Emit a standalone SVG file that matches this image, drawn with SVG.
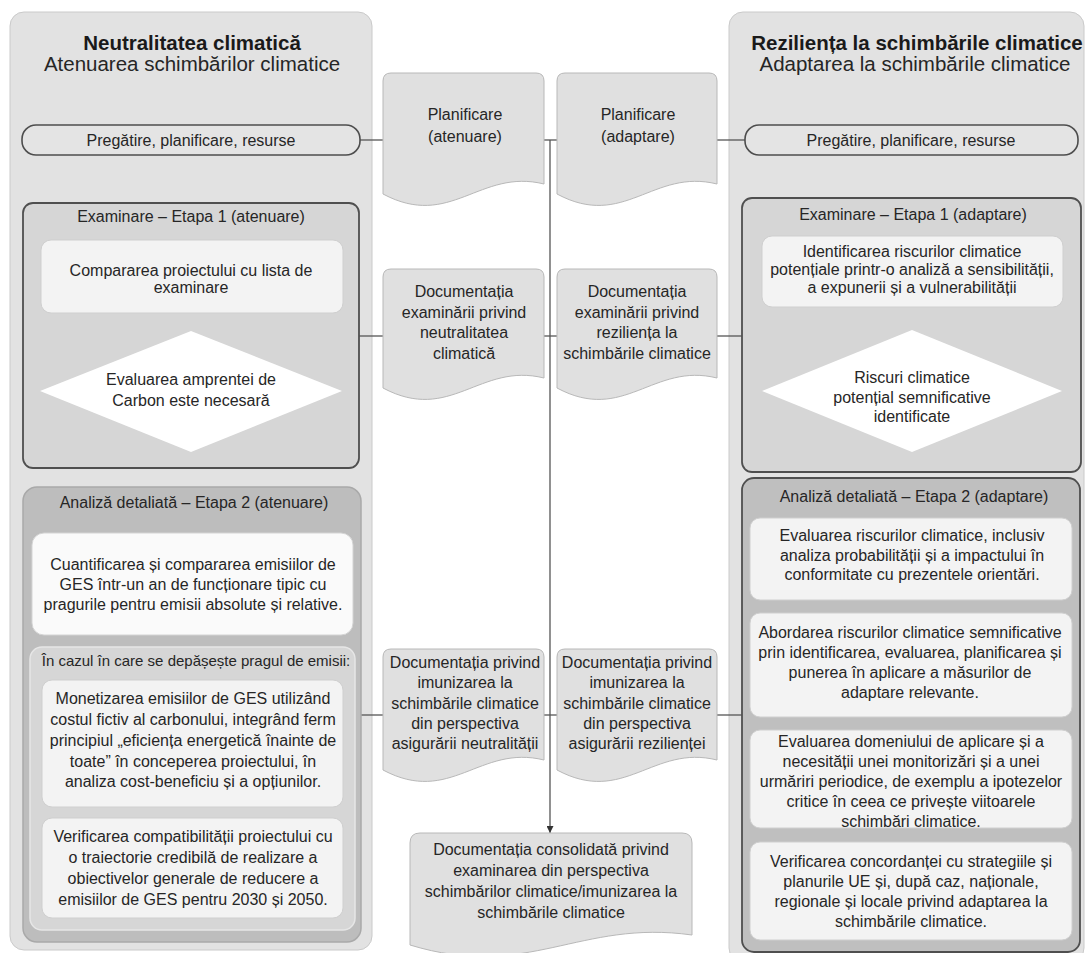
<svg xmlns="http://www.w3.org/2000/svg" width="1085" height="953" viewBox="0 0 1085 953">
  <defs>
    <style>
      text { font-family: "Liberation Sans", Arial, sans-serif; font-size: 16px; fill: #262626; text-anchor: middle; }
      .title { font-size: 20.5px; font-weight: bold; fill: #1a1a1a; }
      .subtitle { font-size: 20.5px; fill: #262626; }
      .small { font-size: 15px; }
      .panel { fill: #e2e2e2; stroke: #cacaca; stroke-width: 1; }
      .pill { fill: #e4e4e4; stroke: #4d4d4d; stroke-width: 1.6; }
      .stage1 { fill: #d6d6d6; stroke: #4f4f4f; stroke-width: 1.8; }
      .stage2L { fill: #bdbdbd; stroke: #a9a9a9; stroke-width: 1.5; }
      .stage2R { fill: #bfbfbf; stroke: #4f4f4f; stroke-width: 1.8; }
      .sub { fill: #d6d6d6; stroke: #e6e6e6; stroke-width: 1.5; }
      .box { fill: #f3f3f3; stroke: #cfcfcf; stroke-width: 1; }
      .boxw { fill: #fafafa; stroke: #d4d4d4; stroke-width: 1; }
      .diamond { fill: #ffffff; stroke: none; }
      .doc { fill: #e0e0e0; stroke: #b8b8b8; stroke-width: 1; }
      .conn { fill: none; stroke: #555555; stroke-width: 1.3; }
    </style>
    <marker id="arrow" viewBox="0 0 10 10" refX="10" refY="5" markerWidth="7" markerHeight="7" orient="auto" markerUnits="userSpaceOnUse">
      <path d="M0,0 L10,5 L0,10 Z" fill="#333333"/>
    </marker>
  </defs>

  <!-- background columns -->
  <g id="panel-left">
    <rect class="panel" x="10" y="12" width="362" height="938" rx="14"/>
    <text class="title" x="192" y="50">Neutralitatea climatică</text>
    <text class="subtitle" x="192" y="71">Atenuarea schimbărilor climatice</text>
  </g>
  <g id="panel-right">
    <rect class="panel" x="729" y="12" width="355" height="950" rx="14"/>
    <text class="title" x="917" y="50">Reziliența la schimbările climatice</text>
    <text class="subtitle" x="915" y="71">Adaptarea la schimbările climatice</text>
  </g>

  <!-- connectors -->
  <g id="connectors">
    <line class="conn" x1="360" y1="140" x2="383" y2="140"/>
    <line class="conn" x1="544" y1="140" x2="557" y2="140"/>
    <line class="conn" x1="717" y1="140" x2="745" y2="140"/>
    <line class="conn" x1="359" y1="336" x2="383" y2="336"/>
    <line class="conn" x1="544" y1="336" x2="557" y2="336"/>
    <line class="conn" x1="717" y1="336" x2="742" y2="336"/>
    <line class="conn" x1="361" y1="715" x2="383" y2="715"/>
    <line class="conn" x1="544" y1="715" x2="557" y2="715"/>
    <line class="conn" x1="717" y1="715" x2="742" y2="715"/>
    <line class="conn" x1="550" y1="140" x2="550" y2="833" marker-end="url(#arrow)"/>
    <line class="conn" x1="193" y1="635" x2="193" y2="647"/>
    <line class="conn" x1="193" y1="807" x2="193" y2="818"/>
  </g>

  <!-- left column -->
  <g id="prep-left">
    <rect class="pill" x="22" y="125" width="338" height="30" rx="14"/>
    <text x="191" y="146">Pregătire, planificare, resurse</text>
  </g>

  <g id="screening-left">
    <rect class="stage1" x="23" y="203" width="336" height="265" rx="10"/>
    <text x="191" y="222">Examinare – Etapa 1 (atenuare)</text>
  </g>
  <g id="checklist-left">
    <rect class="box" x="41" y="240" width="302" height="73" rx="10"/>
    <text x="191" y="276">Compararea proiectului cu lista de</text>
    <text x="191" y="293">examinare</text>
  </g>
  <g id="decision-left">
    <polygon class="diamond" points="191,331 342,391 191,452 40,391"/>
    <text x="191" y="385">Evaluarea amprentei de</text>
    <text x="191" y="406">Carbon este necesară</text>
  </g>

  <g id="analysis-left">
    <rect class="stage2L" x="23" y="487" width="338" height="455" rx="14"/>
    <text x="194" y="508">Analiză detaliată – Etapa 2 (atenuare)</text>
  </g>
  <g id="quantify-left">
    <rect class="boxw" x="32" y="533" width="321" height="102" rx="12"/>
    <text x="193" y="569.5">Cuantificarea și compararea emisiilor de</text>
    <text x="193" y="589.5">GES într-un an de funcționare tipic cu</text>
    <text x="193" y="609.5">pragurile pentru emisii absolute și relative.</text>
  </g>
  <g id="threshold-left">
    <rect class="sub" x="30" y="647" width="325" height="283" rx="12"/>
    <text class="small" x="196" y="666">În cazul în care se depășește pragul de emisii:</text>
  </g>
  <g id="monetise-left">
    <rect class="box" x="42" y="680" width="301" height="127" rx="10"/>
    <text x="193" y="704">Monetizarea emisiilor de GES utilizând</text>
    <text x="193" y="725">costul fictiv al carbonului, integrând ferm</text>
    <text x="193" y="746">principiul „eficiența energetică înainte de</text>
    <text x="193" y="766.5">toate” în conceperea proiectului, în</text>
    <text x="193" y="787">analiza cost-beneficiu și a opțiunilor.</text>
  </g>
  <g id="trajectory-left">
    <rect class="box" x="42" y="818" width="301" height="100" rx="10"/>
    <text x="193" y="841.5">Verificarea compatibilității proiectului cu</text>
    <text x="193" y="862.5">o traiectorie credibilă de realizare a</text>
    <text x="193" y="883.5">obiectivelor generale de reducere a</text>
    <text x="193" y="904.5">emisiilor de GES pentru 2030 și 2050.</text>
  </g>

  <!-- centre documents -->
  <g id="doc-plan-mitigation">
    <path class="doc" d="M391,73 H536 Q544,73 544,81 V184 C479.6,168 450.6,230 383,194 V81 Q383,73 391,73 Z"/>
    <text x="465" y="120">Planificare</text>
    <text x="465" y="142">(atenuare)</text>
  </g>
  <g id="doc-plan-adaptation">
    <path class="doc" d="M565,73 H709 Q717,73 717,81 V184 C653,168 624,230 557,194 V81 Q557,73 565,73 Z"/>
    <text x="638" y="120">Planificare</text>
    <text x="638" y="142">(adaptare)</text>
  </g>
  <g id="doc-screen-mitigation">
    <path class="doc" d="M391,269 H536 Q544,269 544,277 V378 C479.6,362 450.6,424 383,388 V277 Q383,269 391,269 Z"/>
    <text x="464" y="297">Documentația</text>
    <text x="464" y="317.5">examinării privind</text>
    <text x="464" y="338">neutralitatea</text>
    <text x="464" y="358.5">climatică</text>
  </g>
  <g id="doc-screen-adaptation">
    <path class="doc" d="M565,269 H709 Q717,269 717,277 V378 C653,362 624,424 557,388 V277 Q557,269 565,269 Z"/>
    <text x="637" y="297">Documentația</text>
    <text x="637" y="317.5">examinării privind</text>
    <text x="637" y="338">reziliența la</text>
    <text x="637" y="358.5">schimbările climatice</text>
  </g>
  <g id="doc-proof-mitigation">
    <path class="doc" d="M391,649 H536 Q544,649 544,657 V760 C479.6,744 450.6,806 383,770 V657 Q383,649 391,649 Z"/>
    <text x="465" y="668">Documentația privind</text>
    <text x="465" y="688">imunizarea la</text>
    <text x="465" y="709">schimbările climatice</text>
    <text x="465" y="729">din perspectiva</text>
    <text x="465" y="749">asigurării neutralității</text>
  </g>
  <g id="doc-proof-adaptation">
    <path class="doc" d="M565,649 H709 Q717,649 717,657 V760 C653,744 624,806 557,770 V657 Q557,649 565,649 Z"/>
    <text x="637" y="668">Documentația privind</text>
    <text x="637" y="688">imunizarea la</text>
    <text x="637" y="709">schimbările climatice</text>
    <text x="637" y="729">din perspectiva</text>
    <text x="637" y="749">asigurării rezilienței</text>
  </g>
  <g id="doc-consolidated">
    <path class="doc" d="M420,833 H682 Q692,833 692,843 V935 C579,919 528,981 410,945 V843 Q410,833 420,833 Z"/>
    <text x="551" y="855">Documentația consolidată privind</text>
    <text x="551" y="876">examinarea din perspectiva</text>
    <text x="551" y="897">schimbărilor climatice/imunizarea la</text>
    <text x="551" y="918">schimbările climatice</text>
  </g>

  <!-- right column -->
  <g id="prep-right">
    <rect class="pill" x="745" y="125" width="333" height="30" rx="14"/>
    <text x="911" y="146">Pregătire, planificare, resurse</text>
  </g>

  <g id="screening-right">
    <rect class="stage1" x="742" y="198" width="339" height="274" rx="10"/>
    <text x="913" y="220">Examinare – Etapa 1 (adaptare)</text>
  </g>
  <g id="sensitivity-right">
    <rect class="box" x="762" y="236" width="301" height="71" rx="10"/>
    <text x="912" y="256.5">Identificarea riscurilor climatice</text>
    <text x="912" y="275">potențiale printr-o analiză a sensibilității,</text>
    <text x="912" y="293">a expunerii și a vulnerabilității</text>
  </g>
  <g id="decision-right">
    <polygon class="diamond" points="912,330 1062,391 912,452 762,391"/>
    <text x="912" y="383">Riscuri climatice</text>
    <text x="912" y="403">potențial semnificative</text>
    <text x="912" y="422">identificate</text>
  </g>

  <g id="analysis-right">
    <rect class="stage2R" x="742" y="478" width="338" height="474" rx="12"/>
    <text x="914" y="502">Analiză detaliată – Etapa 2 (adaptare)</text>
  </g>
  <g id="risk-assessment-right">
    <rect class="box" x="750" y="518" width="322" height="82" rx="10"/>
    <text x="912" y="540.5">Evaluarea riscurilor climatice, inclusiv</text>
    <text x="912" y="560.5">analiza probabilității și a impactului în</text>
    <text x="912" y="579.5">conformitate cu prezentele orientări.</text>
  </g>
  <g id="risk-treatment-right">
    <rect class="box" x="750" y="613" width="322" height="104" rx="10"/>
    <text x="910" y="638">Abordarea riscurilor climatice semnificative</text>
    <text x="910" y="658">prin identificarea, evaluarea, planificarea și</text>
    <text x="910" y="678">punerea în aplicare a măsurilor de</text>
    <text x="910" y="698">adaptare relevante.</text>
  </g>
  <g id="monitoring-right">
    <rect class="box" x="750" y="730" width="322" height="98" rx="10"/>
    <text x="911" y="746.5">Evaluarea domeniului de aplicare și a</text>
    <text x="911" y="766.5">necesității unei monitorizări și a unei</text>
    <text x="911" y="786.5">urmăriri periodice, de exemplu a ipotezelor</text>
    <text x="911" y="806.5">critice în ceea ce privește viitoarele</text>
    <text x="911" y="827">schimbări climatice.</text>
  </g>
  <g id="consistency-right">
    <rect class="box" x="750" y="842" width="322" height="98" rx="10"/>
    <text x="911" y="866.5">Verificarea concordanței cu strategiile și</text>
    <text x="911" y="886.5">planurile UE și, după caz, naționale,</text>
    <text x="911" y="906.5">regionale și locale privind adaptarea la</text>
    <text x="911" y="926.5">schimbările climatice.</text>
  </g>
</svg>
